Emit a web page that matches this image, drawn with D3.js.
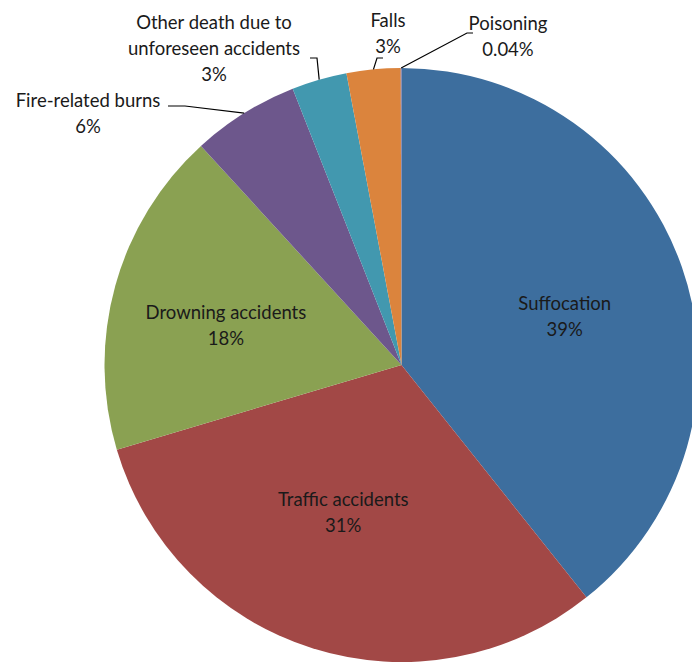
<!DOCTYPE html>
<html><head><meta charset="utf-8">
<script src="https://cdn.jsdelivr.net/npm/d3@7"></script>
<style>body{margin:0;background:#fff}svg{display:block}text{font-family:Lato,"Open Sans",sans-serif;font-size:18.5px;fill:#1a1a1a}</style>
</head><body><svg id="c" width="692" height="662"></svg>
<script>
const categories = ["Suffocation","Traffic accidents","Drowning accidents","Fire-related burns","Other death due to unforeseen accidents","Falls","Poisoning"];
const values = [39.3, 31.1, 17.8, 5.83, 3.0, 2.93, 0.04];
const percentLabels = ["39%","31%","18%","6%","3%","3%","0.04%"];
const colors = ["#3D6E9E","#A24846","#8AA152","#6D578C","#4298AF","#DB843D","#7A6A9A"];

// layout (not data)
const W=692,H=662,cx=401.5,cy=365,R=297,lh=26;
const labelLines = [["Suffocation"],["Traffic accidents"],["Drowning accidents"],["Fire-related burns"],["Other death due to","unforeseen accidents"],["Falls"],["Poisoning"]];
const inside = {0:[2,8],1:[-7,-15],2:[-11,6]};
const outside = {
  3:{x:88,y:114,elbow:[185,106],end:[168,106]},
  4:{x:214,y:49,elbow:[317,58],end:[310,58]},
  5:{x:388,y:34,elbow:[377,58],end:[383,58]},
  6:{x:508,y:37,elbow:[467,33],end:[473,33]}
};

const svg=d3.select("#c");
const pie=d3.pie().sort(null).value(d=>d)(values);
const arc=d3.arc().innerRadius(0).outerRadius(R);
const cArc=d3.arc().innerRadius(0).outerRadius(R*1.15);
const g=svg.append("g").attr("transform",`translate(${cx},${cy})`);
g.selectAll("path").data(pie).join("path").attr("d",arc).attr("fill",(d,i)=>colors[i]);

pie.forEach((d,i)=>{
  const lines=labelLines[i].concat([percentLabels[i]]);
  let x,y;
  if(inside[i]){
    const c=cArc.centroid(d); x=cx+c[0]+inside[i][0]; y=cy+c[1]+inside[i][1];
  } else {
    const o=outside[i]; x=o.x; y=o.y;
    const a=(d.startAngle+d.endAngle)/2;
    const px=cx+R*Math.sin(a), py=cy-R*Math.cos(a);
    svg.append("polyline").attr("points",[[px,py],o.elbow,o.end].map(p=>p.join(",")).join(" "))
      .attr("fill","none").attr("stroke","#000").attr("stroke-width",1.2);
  }
  const t=svg.append("text").attr("text-anchor","middle");
  const n=lines.length;
  lines.forEach((s,k)=>{
    t.append("tspan").attr("x",x).attr("y",y+(k-(n-1)/2)*lh).attr("dy","0.35em").text(s);
  });
});
</script></body></html>
